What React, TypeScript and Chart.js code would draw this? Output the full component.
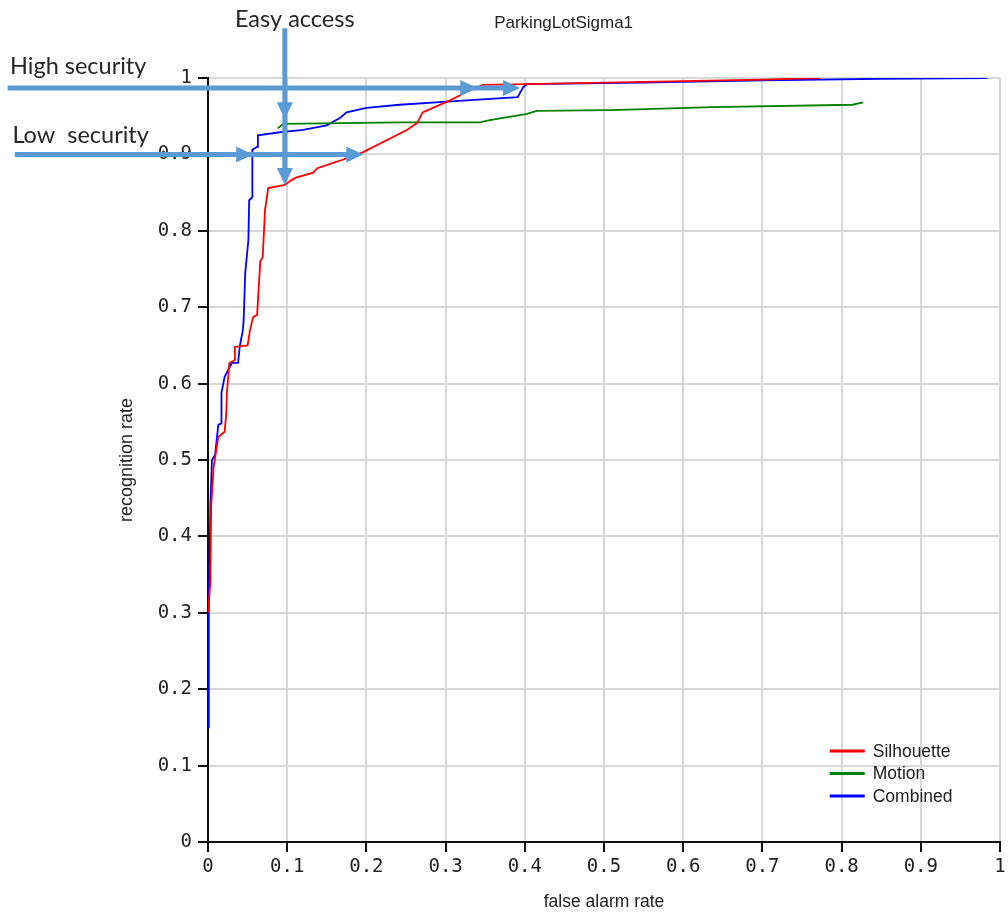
import React, { useEffect, useRef } from "react";
import { Chart, registerables } from "chart.js";

Chart.register(...registerables);

// ---- data ----
const chartTitle = "ParkingLotSigma1";
const xAxisTitle = "false alarm rate";
const yAxisTitle = "recognition rate";
const seriesLabels = ["Silhouette", "Motion", "Combined"];
const seriesColors = ["#ff0000", "#008000", "#0000ff"];

const silhouetteX = [0.000, 0.003, 0.004, 0.007, 0.010, 0.013, 0.021, 0.023, 0.024, 0.027, 0.034, 0.034, 0.050, 0.053, 0.057, 0.062, 0.066, 0.069, 0.072, 0.076, 0.097, 0.105, 0.112, 0.133, 0.138, 0.158, 0.170, 0.196, 0.251, 0.264, 0.271, 0.302, 0.327, 0.347, 0.403, 0.550, 0.700, 0.773];
const silhouetteY = [0.300, 0.340, 0.440, 0.490, 0.510, 0.530, 0.537, 0.560, 0.590, 0.627, 0.631, 0.648, 0.650, 0.670, 0.687, 0.690, 0.760, 0.765, 0.827, 0.856, 0.860, 0.866, 0.870, 0.876, 0.882, 0.889, 0.893, 0.903, 0.932, 0.941, 0.955, 0.969, 0.982, 0.991, 0.992, 0.995, 0.998, 1.000];

const motionX = [0.088, 0.095, 0.242, 0.343, 0.356, 0.403, 0.415, 0.508, 0.638, 0.814, 0.827];
const motionY = [0.934, 0.940, 0.942, 0.942, 0.945, 0.953, 0.957, 0.958, 0.962, 0.965, 0.968];

const combinedX = [0.000, 0.001, 0.003, 0.005, 0.009, 0.013, 0.017, 0.017, 0.021, 0.030, 0.038, 0.040, 0.044, 0.045, 0.047, 0.051, 0.052, 0.056, 0.056, 0.062, 0.063, 0.091, 0.120, 0.150, 0.167, 0.175, 0.200, 0.242, 0.302, 0.391, 0.398, 0.403, 0.550, 0.700, 0.850, 0.984];
const combinedY = [0.150, 0.300, 0.440, 0.500, 0.507, 0.546, 0.548, 0.588, 0.609, 0.627, 0.627, 0.648, 0.670, 0.683, 0.745, 0.788, 0.840, 0.844, 0.906, 0.910, 0.925, 0.929, 0.932, 0.938, 0.948, 0.955, 0.961, 0.965, 0.969, 0.975, 0.988, 0.992, 0.994, 0.997, 0.999, 1.000];

// annotations (in data coordinates)
const annotationTexts = ["High security", "Low  security", "Easy access"];
const annotationTextPos = [[-0.25, 1.005], [-0.247, 0.915], [0.034, 1.067]];
const highSecurityArrow = { y: 0.987, from: -0.253, heads: [0.34, 0.394] };
const lowSecurityArrow = { y: 0.90, from: -0.244, heads: [0.057, 0.196] };
const easyAccessArrow = { x: 0.097, from: 1.065, heads: [0.946, 0.86] };
const titlePos = [0.449, 1.072];
const legendPos = [0.785, 0.119];

const toPoints = (xs: number[], ys: number[]) => xs.map((x, i) => ({ x, y: ys[i] }));

const overlayPlugin = {
  id: "overlay",
  afterDraw(chart: any) {
    const { ctx } = chart;
    const xs = chart.scales.x;
    const ys = chart.scales.y;
    const px = (v: number) => xs.getPixelForValue(v);
    const py = (v: number) => ys.getPixelForValue(v);
    ctx.save();

    // chart title
    ctx.font = '17px "Liberation Sans", Arial, sans-serif';
    ctx.fillStyle = "#222";
    ctx.textAlign = "center";
    ctx.textBaseline = "middle";
    ctx.fillText(chartTitle, px(titlePos[0]), py(titlePos[1]));

    // arrows
    const arrowColor = "#5b9bd5";
    ctx.strokeStyle = arrowColor;
    ctx.fillStyle = arrowColor;
    ctx.lineWidth = 5;
    ctx.lineCap = "butt";
    const headLen = 17;
    const headHalf = 8;
    const hArrow = (a: { y: number; from: number; heads: number[] }) => {
      const yy = py(a.y);
      const end = px(a.heads[a.heads.length - 1]);
      ctx.beginPath();
      ctx.moveTo(px(a.from), yy);
      ctx.lineTo(end - headLen + 2, yy);
      ctx.stroke();
      a.heads.forEach((h) => {
        const tip = px(h);
        ctx.beginPath();
        ctx.moveTo(tip, yy);
        ctx.lineTo(tip - headLen, yy - headHalf);
        ctx.lineTo(tip - headLen, yy + headHalf);
        ctx.closePath();
        ctx.fill();
      });
    };
    const vArrow = (a: { x: number; from: number; heads: number[] }) => {
      const xx = px(a.x);
      const end = py(a.heads[a.heads.length - 1]);
      ctx.beginPath();
      ctx.moveTo(xx, py(a.from));
      ctx.lineTo(xx, end - headLen + 2);
      ctx.stroke();
      a.heads.forEach((h) => {
        const tip = py(h);
        ctx.beginPath();
        ctx.moveTo(xx, tip);
        ctx.lineTo(xx - headHalf, tip - headLen);
        ctx.lineTo(xx + headHalf, tip - headLen);
        ctx.closePath();
        ctx.fill();
      });
    };
    hArrow(highSecurityArrow);
    hArrow(lowSecurityArrow);
    vArrow(easyAccessArrow);

    // annotation texts
    ctx.font = '23.5px Lato, "Open Sans", sans-serif';
    ctx.fillStyle = "#262626";
    ctx.textAlign = "left";
    ctx.textBaseline = "alphabetic";
    annotationTexts.forEach((t, i) => {
      ctx.fillText(t, px(annotationTextPos[i][0]), py(annotationTextPos[i][1]));
    });

    // legend
    const lx = px(legendPos[0]);
    let ly = py(legendPos[1]);
    ctx.font = '17.5px "Liberation Sans", Arial, sans-serif';
    ctx.textBaseline = "middle";
    chart.data.datasets.forEach((ds: any) => {
      ctx.strokeStyle = ds.borderColor;
      ctx.lineWidth = 3;
      ctx.beginPath();
      ctx.moveTo(lx, ly);
      ctx.lineTo(lx + 35, ly);
      ctx.stroke();
      ctx.fillStyle = "#222";
      ctx.fillText(ds.label, lx + 43, ly + 1);
      ly += 22.5;
    });
    ctx.restore();
  },
};

export default function App() {
  const canvasRef = useRef<HTMLCanvasElement | null>(null);

  useEffect(() => {
    if (!canvasRef.current) return;
    const seriesData = [
      toPoints(silhouetteX, silhouetteY),
      toPoints(motionX, motionY),
      toPoints(combinedX, combinedY),
    ];
    const tickFont = { family: '"DejaVu Sans Mono", monospace', size: 19 };
    const titleFont = { family: '"Liberation Sans", Arial, sans-serif', size: 17.5 };
    const chart = new Chart(canvasRef.current, {
      type: "scatter",
      data: {
        datasets: seriesData.map((d, i) => ({
          label: seriesLabels[i],
          data: d,
          showLine: true,
          borderColor: seriesColors[i],
          backgroundColor: seriesColors[i],
          borderWidth: 1.8,
          pointRadius: 0,
          tension: 0,
        })),
      },
      options: {
        animation: false,
        responsive: true,
        maintainAspectRatio: false,
        layout: { padding: { top: 78, right: 8, bottom: 0, left: 0 } },
        plugins: {
          legend: { display: false },
          title: { display: false },
          tooltip: { enabled: false },
        },
        scales: {
          x: {
            type: "linear",
            min: 0,
            max: 1,
            afterFit: (s: any) => {
              s.height = 74;
              s.paddingRight = 0;
              s.paddingLeft = 0;
            },
            ticks: {
              stepSize: 0.1,
              font: tickFont,
              color: "#222",
              padding: 4,
              callback: (v: any) => String(Math.round(v * 10) / 10),
            },
            grid: { color: "#d8d8d8", lineWidth: 2, tickColor: "#111", tickLength: 10 },
            border: { color: "#111", width: 2 },
            title: { display: true, text: xAxisTitle, font: titleFont, color: "#222", padding: { top: 0, bottom: 3 } },
          },
          y: {
            type: "linear",
            min: 0,
            max: 1,
            afterFit: (s: any) => {
              s.width = 208;
              s.paddingTop = 0;
              s.paddingBottom = 0;
            },
            ticks: {
              stepSize: 0.1,
              font: tickFont,
              color: "#222",
              padding: 6,
              callback: (v: any) => String(Math.round(v * 10) / 10),
            },
            grid: { color: "#d8d8d8", lineWidth: 2, tickColor: "#111", tickLength: 10 },
            border: { color: "#111", width: 2 },
            title: { display: true, text: yAxisTitle, font: { ...titleFont, size: 18 }, color: "#222", padding: { top: 116, bottom: 0 } },
          },
        },
      },
      plugins: [overlayPlugin],
    } as any);
    return () => chart.destroy();
  }, []);

  return (
    <div style={{ position: "fixed", left: 0, top: 0, width: 1008, height: 916, background: "#fff" }}>
      <canvas ref={canvasRef} />
    </div>
  );
}
